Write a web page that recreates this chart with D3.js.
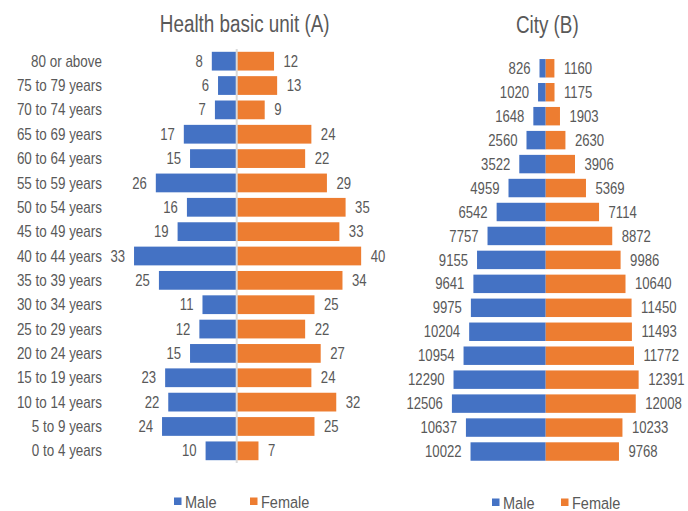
<!DOCTYPE html>
<html>
<head>
<meta charset="utf-8">
<script src="https://cdn.jsdelivr.net/npm/d3@7"></script>
<style>
  body { margin: 0; background: #fff; }
  svg text { font-family: "Liberation Sans", Arial, sans-serif; fill: #595959; }
</style>
</head>
<body>
<svg id="chart" width="688" height="511"></svg>
<script>
const ageGroups = ['80 or above', '75 to 79 years', '70 to 74 years', '65 to 69 years', '60 to 64 years',
    '55 to 59 years', '50 to 54 years', '45 to 49 years', '40 to 44 years', '35 to 39 years',
    '30 to 34 years', '25 to 29 years', '20 to 24 years', '15 to 19 years', '10 to 14 years',
    '5 to 9 years', '0 to 4 years'];

const unitMale = [8, 6, 7, 17, 15, 26, 16, 19, 33, 25, 11, 12, 15, 23, 22, 24, 10];
const unitFemale = [12, 13, 9, 24, 22, 29, 35, 33, 40, 34, 25, 22, 27, 24, 32, 25, 7];

const cityMale = [826, 1020, 1648, 2560, 3522, 4959, 6542, 7757, 9155, 9641, 9975, 10204, 10954, 12290, 12506, 10637, 10022];
const cityFemale = [1160, 1175, 1903, 2630, 3906, 5369, 7114, 8872, 9986, 10640, 11450, 11493, 11772, 12391, 12008, 10233, 9768];

const seriesNames = ['Male', 'Female'];
const colors = {Male: '#4472C4', Female: '#ED7D31'};

const svg = d3.select('#chart');

// the reference type is a condensed sans, so squeeze Liberation Sans horizontally
function place(x, y, sx) {
    return 'translate(' + x + ',' + y + ') scale(' + (sx || 0.82) + ',1)';
}

function pyramid(opts) {
    let g = svg.append('g');

    let x = d3.scaleLinear()
        .domain([-opts.max, opts.max])
        .range([opts.center - opts.half, opts.center + opts.half]);

    let y = d3.scaleBand()
        .domain(ageGroups)
        .range(opts.yRange)
        .paddingInner(0.23)
        .paddingOuter(0.115);

    let rows = ageGroups.map((a, i) => ({age: a, male: opts.male[i], female: opts.female[i]}));
    let mid = d => y(d.age) + y.bandwidth() / 2;

    // male bars go left, female right
    g.selectAll('rect.male')
        .data(rows)
        .enter().append('rect')
        .attr('class', 'male')
        .attr('x', d => x(-d.male))
        .attr('y', d => y(d.age))
        .attr('width', d => x(0) - x(-d.male))
        .attr('height', y.bandwidth())
        .attr('fill', colors.Male);

    g.selectAll('rect.female')
        .data(rows)
        .enter().append('rect')
        .attr('class', 'female')
        .attr('x', x(0))
        .attr('y', d => y(d.age))
        .attr('width', d => x(d.female) - x(0))
        .attr('height', y.bandwidth())
        .attr('fill', colors.Female);

    if (opts.axisLine) {
        g.append('line')
            .attr('x1', x(0)).attr('x2', x(0))
            .attr('y1', opts.yRange[0]).attr('y2', opts.yRange[1])
            .attr('stroke', '#d9d9d9')
            .attr('stroke-width', 2);
    }

    g.selectAll('text.mlab')
        .data(rows)
        .enter().append('text')
        .attr('class', 'mlab')
        .attr('transform', d => place(x(-d.male) - 9, mid(d)))
        .attr('dy', '0.35em')
        .attr('text-anchor', 'end')
        .style('font-size', '16px')
        .text(d => d.male);

    g.selectAll('text.flab')
        .data(rows)
        .enter().append('text')
        .attr('class', 'flab')
        .attr('transform', d => place(x(d.female) + 9.5, mid(d)))
        .attr('dy', '0.35em')
        .style('font-size', '16px')
        .text(d => d.female);

    if (opts.categoryX) {
        g.selectAll('text.cat')
            .data(rows)
            .enter().append('text')
            .attr('transform', d => place(opts.categoryX, mid(d), 0.84))
            .attr('dy', '0.35em')
            .attr('text-anchor', 'end')
            .style('font-size', '16px')
            .text(d => d.age);
    }

    g.append('text')
        .attr('transform', place(opts.titleX, opts.titleY))
        .attr('text-anchor', 'middle')
        .style('font-size', '23px')
        .text(opts.title);

    let legend = g.append('g')
        .selectAll('g')
        .data(seriesNames)
        .enter().append('g')
        .attr('transform', (d, i) => 'translate(' + opts.legendX[i] + ',' + opts.legendY + ')');

    legend.append('rect')
        .attr('x', 0).attr('y', -10)
        .attr('width', 7.5).attr('height', 7.5)
        .attr('fill', d => colors[d]);

    legend.append('text')
        .attr('transform', place(11, 0, 0.88))
        .style('font-size', '16.5px')
        .text(d => d);
}

pyramid({
    male: unitMale, female: unitFemale,
    max: 45, center: 236.7, half: 140,
    yRange: [49, 463],
    axisLine: true,
    categoryX: 102,
    title: 'Health basic unit (A)', titleX: 244.7, titleY: 32.3,
    legendX: [174, 250], legendY: 507.5
});

pyramid({
    male: cityMale, female: cityFemale,
    max: 14000, center: 545.7, half: 105,
    yRange: [56.3, 463.5],
    axisLine: false,
    title: 'City (B)', titleX: 547.3, titleY: 33.3,
    legendX: [492, 561], legendY: 508.5
});
</script>
</body>
</html>
